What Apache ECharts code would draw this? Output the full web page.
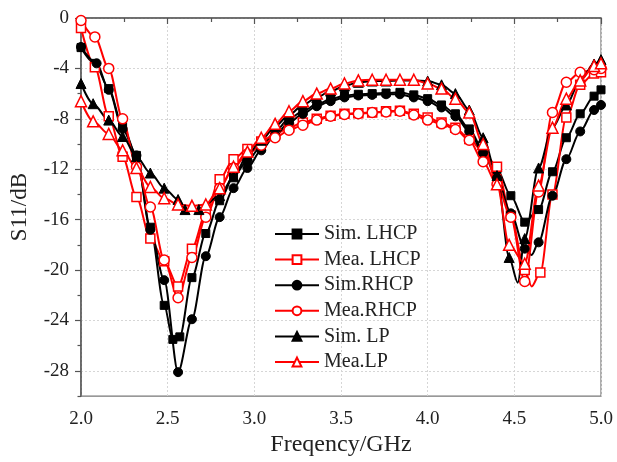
<!DOCTYPE html>
<html>
<head>
<meta charset="utf-8">
<script src="https://cdn.jsdelivr.net/npm/echarts@6/dist/echarts.min.js"></script>
<style>
html,body{margin:0;padding:0;background:#fff;}
#chart{width:617px;height:462px;}
</style>
</head>
<body>
<div id="chart"></div>
<script>
// ---- data (frequency GHz, S11 dB) ----
const seriesNames = ['Sim. LHCP', 'Mea. LHCP', 'Sim.RHCP', 'Mea.RHCP', 'Sim. LP', 'Mea.LP'];
const xTickLabels = ['2.0', '2.5', '3.0', '3.5', '4.0', '4.5', '5.0'];
const yTickValues = [0, -4, -8, -12, -16, -20, -24, -28];
const yMinorTickValues = [-2, -6, -10, -14, -18, -22, -26, -30];

const simLHCP = [[2.00,-2.35],[2.08,-3.6],[2.16,-5.6],[2.24,-8.6],[2.32,-10.9],[2.40,-16.6],[2.48,-22.8],[2.53,-25.5],[2.57,-25.3],[2.64,-20.6],[2.72,-17.1],[2.80,-14.5],[2.88,-12.6],[2.96,-11.3],[3.04,-10.2],[3.12,-9.0],[3.20,-8.0],[3.28,-7.4],[3.36,-6.85],[3.44,-6.45],[3.52,-6.15],[3.60,-6.05],[3.68,-6.0],[3.76,-5.95],[3.84,-5.9],[3.92,-6.1],[4.00,-6.4],[4.08,-6.9],[4.16,-7.6],[4.24,-8.8],[4.32,-10.5],[4.40,-12.0],[4.48,-14.1],[4.56,-16.2],[4.64,-15.2],[4.72,-12.2],[4.80,-9.5],[4.88,-7.6],[4.96,-6.2],[5.00,-5.7]];
const simLHCPTips = [];

const meaLHCP = [[2.00,-0.8],[2.08,-3.9],[2.16,-7.8],[2.24,-11.0],[2.32,-14.2],[2.40,-17.5],[2.48,-19.3],[2.56,-21.3],[2.64,-18.3],[2.72,-15.5],[2.80,-12.8],[2.88,-11.2],[2.96,-10.4],[3.04,-9.8],[3.12,-9.2],[3.20,-8.7],[3.28,-8.3],[3.36,-8.0],[3.44,-7.75],[3.52,-7.6],[3.60,-7.55],[3.68,-7.5],[3.76,-7.4],[3.84,-7.35],[3.92,-7.6],[4.00,-7.9],[4.08,-8.3],[4.16,-8.7],[4.24,-9.6],[4.32,-10.6],[4.40,-11.8],[4.48,-15.7],[4.56,-20.0],[4.65,-20.2],[4.72,-14.0],[4.80,-7.9],[4.88,-5.3],[4.96,-4.4],[5.00,-4.3]];
const meaLHCPTips = [[4.60,-21.3]];

const simRHCP = [[2.00,-2.3],[2.09,-3.6],[2.16,-5.7],[2.24,-8.8],[2.32,-10.9],[2.40,-16.8],[2.48,-20.8],[2.56,-28.1],[2.64,-23.9],[2.72,-18.9],[2.80,-15.8],[2.88,-13.5],[2.96,-11.9],[3.04,-10.5],[3.12,-9.3],[3.20,-8.3],[3.28,-7.6],[3.36,-7.0],[3.44,-6.6],[3.52,-6.3],[3.60,-6.15],[3.68,-6.1],[3.76,-6.05],[3.84,-6.05],[3.92,-6.3],[4.00,-6.6],[4.08,-7.1],[4.16,-7.8],[4.24,-9.0],[4.32,-10.7],[4.40,-12.7],[4.48,-15.5],[4.56,-18.3],[4.64,-17.8],[4.72,-14.1],[4.80,-11.2],[4.88,-9.0],[4.96,-7.3],[5.00,-6.9]];
const simRHCPTips = [[4.60,-18.8]];

const meaRHCP = [[2.00,-0.2],[2.08,-1.5],[2.16,-4.0],[2.24,-8.0],[2.32,-11.8],[2.40,-15.0],[2.48,-19.2],[2.56,-22.2],[2.64,-19.0],[2.72,-15.8],[2.80,-13.5],[2.88,-11.9],[2.96,-10.8],[3.04,-10.1],[3.12,-9.5],[3.20,-8.9],[3.28,-8.5],[3.36,-8.1],[3.44,-7.8],[3.52,-7.65],[3.60,-7.6],[3.68,-7.5],[3.76,-7.45],[3.84,-7.4],[3.92,-7.7],[4.00,-8.1],[4.08,-8.4],[4.16,-8.85],[4.24,-9.7],[4.32,-11.4],[4.40,-13.2],[4.48,-15.8],[4.56,-20.9],[4.64,-13.8],[4.72,-7.5],[4.80,-5.1],[4.88,-4.3],[4.96,-4.1],[5.00,-4.0]];
const meaRHCPTips = [];

const simLP = [[2.00,-5.2],[2.07,-6.8],[2.16,-8.1],[2.24,-9.4],[2.32,-11.0],[2.40,-12.3],[2.48,-13.5],[2.56,-14.4],[2.60,-15.2],[2.68,-15.2],[2.80,-14.1],[2.88,-12.6],[2.96,-10.9],[3.04,-9.7],[3.12,-8.6],[3.20,-7.7],[3.28,-6.9],[3.36,-6.3],[3.44,-5.8],[3.52,-5.4],[3.60,-5.1],[3.68,-5.0],[3.76,-5.0],[3.84,-4.95],[3.92,-4.95],[4.00,-5.0],[4.08,-5.3],[4.16,-6.0],[4.24,-7.3],[4.32,-9.5],[4.40,-12.5],[4.47,-19.0],[4.56,-17.5],[4.64,-11.9],[4.72,-8.7],[4.80,-6.9],[4.88,-4.95],[4.96,-3.65],[5.00,-3.3]];
const simLPTips = [[4.52,-21.0]];

const meaLP = [[2.00,-6.6],[2.07,-8.2],[2.16,-9.2],[2.24,-10.5],[2.32,-11.9],[2.40,-13.4],[2.48,-14.3],[2.56,-14.8],[2.64,-14.9],[2.72,-14.8],[2.80,-13.5],[2.88,-11.8],[2.96,-10.6],[3.04,-9.5],[3.12,-8.4],[3.20,-7.4],[3.28,-6.6],[3.36,-6.0],[3.44,-5.6],[3.52,-5.2],[3.60,-4.95],[3.68,-4.9],[3.76,-4.9],[3.84,-4.9],[3.92,-4.9],[4.00,-5.2],[4.08,-5.6],[4.16,-6.4],[4.24,-7.5],[4.32,-10.0],[4.40,-13.2],[4.47,-18.0],[4.56,-19.5],[4.64,-13.3],[4.72,-8.7],[4.80,-6.4],[4.88,-4.95],[4.96,-3.8],[5.00,-3.6]];
const meaLPTips = [];

// ---- build ----
function build(marked, tips) {
  const pts = marked.map(p => ({ value: p }))
    .concat(tips.map(p => ({ value: p, symbol: 'none' })));
  pts.sort((a, b) => a.value[0] - b.value[0]);
  return pts;
}
const FONT = "'Liberation Serif', 'Times New Roman', serif";
const BLACK = '#000000';
const RED = '#ff0000';

function mkSeries(name, data, tips, color, symbol, size, hollow) {
  return {
    name: name,
    type: 'line',
    data: build(data, tips),
    smooth: 0.3,
    smoothMonotone: 'x',
    symbol: symbol,
    symbolSize: size,
    showAllSymbol: true,
    lineStyle: { color: color, width: 2 },
    itemStyle: hollow
      ? { color: '#ffffff', borderColor: color, borderWidth: 1.5 }
      : { color: color, borderColor: color, borderWidth: 1 },
    emphasis: { disabled: true }
  };
}

const chart = echarts.init(document.getElementById('chart'), null, { renderer: 'canvas' });
chart.setOption({
  animation: false,
  backgroundColor: '#ffffff',
  textStyle: { fontFamily: FONT },
  grid: {
    left: 78, right: 16, top: 18, bottom: 58,
    show: true, borderColor: '#777', borderWidth: 1.2, backgroundColor: 'transparent'
  },
  legend: {
    orient: 'vertical',
    left: 269,
    top: 219,
    itemWidth: 44,
    itemHeight: 11,
    itemGap: 5.6,
    textStyle: { fontFamily: FONT, fontSize: 20, color: '#222', lineHeight: 20 },
    data: seriesNames
  },
  xAxis: {
    type: 'value',
    min: 2, max: 5, interval: 0.5,
    name: 'Freqency/GHz',
    nameLocation: 'middle',
    nameGap: 27,
    nameTextStyle: { fontFamily: FONT, fontSize: 24, color: '#222' },
    axisLine: { lineStyle: { color: '#555', width: 1.5 } },
    axisTick: { show: true, inside: false, length: 6, lineStyle: { color: '#555', width: 1.2 } },
    minorTick: { show: true, splitNumber: 2, length: 4, lineStyle: { color: '#555', width: 1.2 } },
    axisLabel: {
      fontFamily: FONT, fontSize: 19, color: '#222', margin: 13,
      formatter: v => { const i = Math.round((v - 2) / 0.5); return xTickLabels[i] !== undefined ? xTickLabels[i] : ''; }
    },
    splitLine: { show: true, lineStyle: { color: '#d6d6d6', type: [2, 2], width: 1 } }
  },
  yAxis: [{
    type: 'value',
    min: -30, max: 0,
    name: 'S11/dB',
    nameLocation: 'middle',
    nameGap: 50,
    nameTextStyle: { fontFamily: FONT, fontSize: 23, color: '#222' },
    axisLine: { show: true, lineStyle: { color: '#555', width: 1.5 } },
    axisTick: { show: true, length: 6, customValues: yTickValues, lineStyle: { color: '#555', width: 1.2 } },
    axisLabel: { fontFamily: FONT, fontSize: 19, color: '#222', margin: 12, customValues: yTickValues },
    splitLine: { show: true, lineStyle: { color: '#d6d6d6', type: [2, 2], width: 1 } }
  }, {
    type: 'value',
    min: -30, max: 0,
    position: 'left',
    axisLine: { show: false },
    axisTick: { show: true, length: 3.5, customValues: yMinorTickValues, lineStyle: { color: '#555', width: 1.2 } },
    axisLabel: { show: false },
    splitLine: { show: false }
  }],
  series: [
    mkSeries(seriesNames[0], simLHCP, simLHCPTips, BLACK, 'rect', 8, false),
    mkSeries(seriesNames[1], meaLHCP, meaLHCPTips, RED, 'rect', 9, true),
    mkSeries(seriesNames[2], simRHCP, simRHCPTips, BLACK, 'circle', 9, false),
    mkSeries(seriesNames[3], meaRHCP, meaRHCPTips, RED, 'circle', 10, true),
    mkSeries(seriesNames[4], simLP, simLPTips, BLACK, 'triangle', 10, false),
    mkSeries(seriesNames[5], meaLP, meaLPTips, RED, 'triangle', 11, true)
  ]
});
</script>
</body>
</html>
